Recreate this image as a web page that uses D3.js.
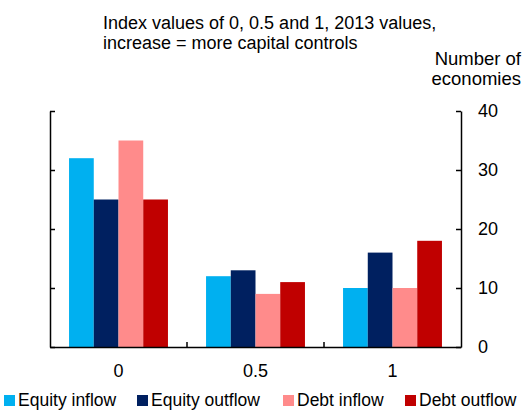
<!DOCTYPE html>
<html>
<head>
<meta charset="utf-8">
<script src="https://cdn.jsdelivr.net/npm/d3@7"></script>
<style>
  body { margin: 0; background: #fff; }
  svg { font-family: "Liberation Sans", Arial, sans-serif; }
  .axis path, .axis line { stroke: #000; stroke-width: 1.5; }
  .axis text { font-size: 18px; fill: #000; }
</style>
</head>
<body>
<div id="chart"></div>
<script>
// data
var categories = ["0", "0.5", "1"];
var seriesNames = ["Equity inflow", "Equity outflow", "Debt inflow", "Debt outflow"];
var equityInflow = [32, 12, 10];
var equityOutflow = [25, 13, 16];
var debtInflow = [35, 9, 10];
var debtOutflow = [25, 11, 18];
var yTicks = [0, 10, 20, 30, 40];

var seriesValues = [equityInflow, equityOutflow, debtInflow, debtOutflow];
var colors = ["#00b0f0", "#002060", "#ff8b8b", "#c00000"];

var width = 526, height = 413;
var plot = {left: 50, right: 461, top: 111, bottom: 347};

var svg = d3.select("#chart")
  .append("svg")
    .attr("width", width)
    .attr("height", height);

var x = d3.scaleBand()
  .domain(categories)
  .range([plot.left, plot.right])
  .padding(0);

var xInner = d3.scaleBand()
  .domain(seriesNames)
  .range([0, x.bandwidth()])
  .paddingInner(0)
  .paddingOuter(0.77);

var y = d3.scaleLinear()
  .domain([0, 40])
  .range([plot.bottom, plot.top]);

// bars
seriesNames.forEach(function(name, si) {
  svg.append("g")
    .selectAll("rect")
    .data(categories)
    .enter().append("rect")
      .attr("x", function(c) { return x(c) + xInner(name); })
      .attr("y", function(c, i) { return y(seriesValues[si][i]); })
      .attr("width", xInner.bandwidth())
      .attr("height", function(c, i) { return y(0) - y(seriesValues[si][i]); })
      .style("fill", colors[si]);
});

// left axis (ticks only)
svg.append("g")
  .attr("class", "axis")
  .attr("transform", "translate(" + plot.left + ",0)")
  .call(d3.axisRight(y).tickValues(yTicks).tickSize(5).tickSizeOuter(0).tickFormat(""));

// right axis with labels
svg.append("g")
  .attr("class", "axis")
  .attr("transform", "translate(" + plot.right + ",0)")
  .call(d3.axisRight(y).tickValues(yTicks).tickSizeInner(-5).tickSizeOuter(0).tickPadding(17));

// bottom axis
var xAxis = svg.append("g")
  .attr("class", "axis")
  .attr("transform", "translate(0," + plot.bottom + ")")
  .call(d3.axisBottom(x).tickSize(0).tickPadding(17));

// separator ticks between categories
xAxis.selectAll(".sep")
  .data(categories.slice(1))
  .enter().append("line")
    .attr("class", "sep")
    .attr("x1", function(c) { return x(c); })
    .attr("x2", function(c) { return x(c); })
    .attr("y1", 0)
    .attr("y2", -5);

// title
var title = svg.append("text")
  .attr("x", 103)
  .attr("y", 28.5)
  .style("font-size", "18px");
title.append("tspan").attr("x", 103).text("Index values of 0, 0.5 and 1, 2013 values,");
title.append("tspan").attr("x", 103).attr("dy", 20).text("increase = more capital controls");

// unit label
var unit = svg.append("text")
  .attr("x", 521)
  .attr("y", 65)
  .style("text-anchor", "end")
  .style("font-size", "18.5px");
unit.append("tspan").attr("x", 521).text("Number of");
unit.append("tspan").attr("x", 521).attr("dy", 20).text("economies");

// legend
var legendX = [4, 137, 283, 405];
var legend = svg.append("g").attr("class", "legend");
seriesNames.forEach(function(name, i) {
  legend.append("rect")
    .attr("x", legendX[i])
    .attr("y", 395)
    .attr("width", 11)
    .attr("height", 11)
    .style("fill", colors[i]);
  legend.append("text")
    .attr("x", legendX[i] + 14)
    .attr("y", 405.5)
    .style("font-size", "17.5px")
    .text(name);
});
</script>
</body>
</html>
